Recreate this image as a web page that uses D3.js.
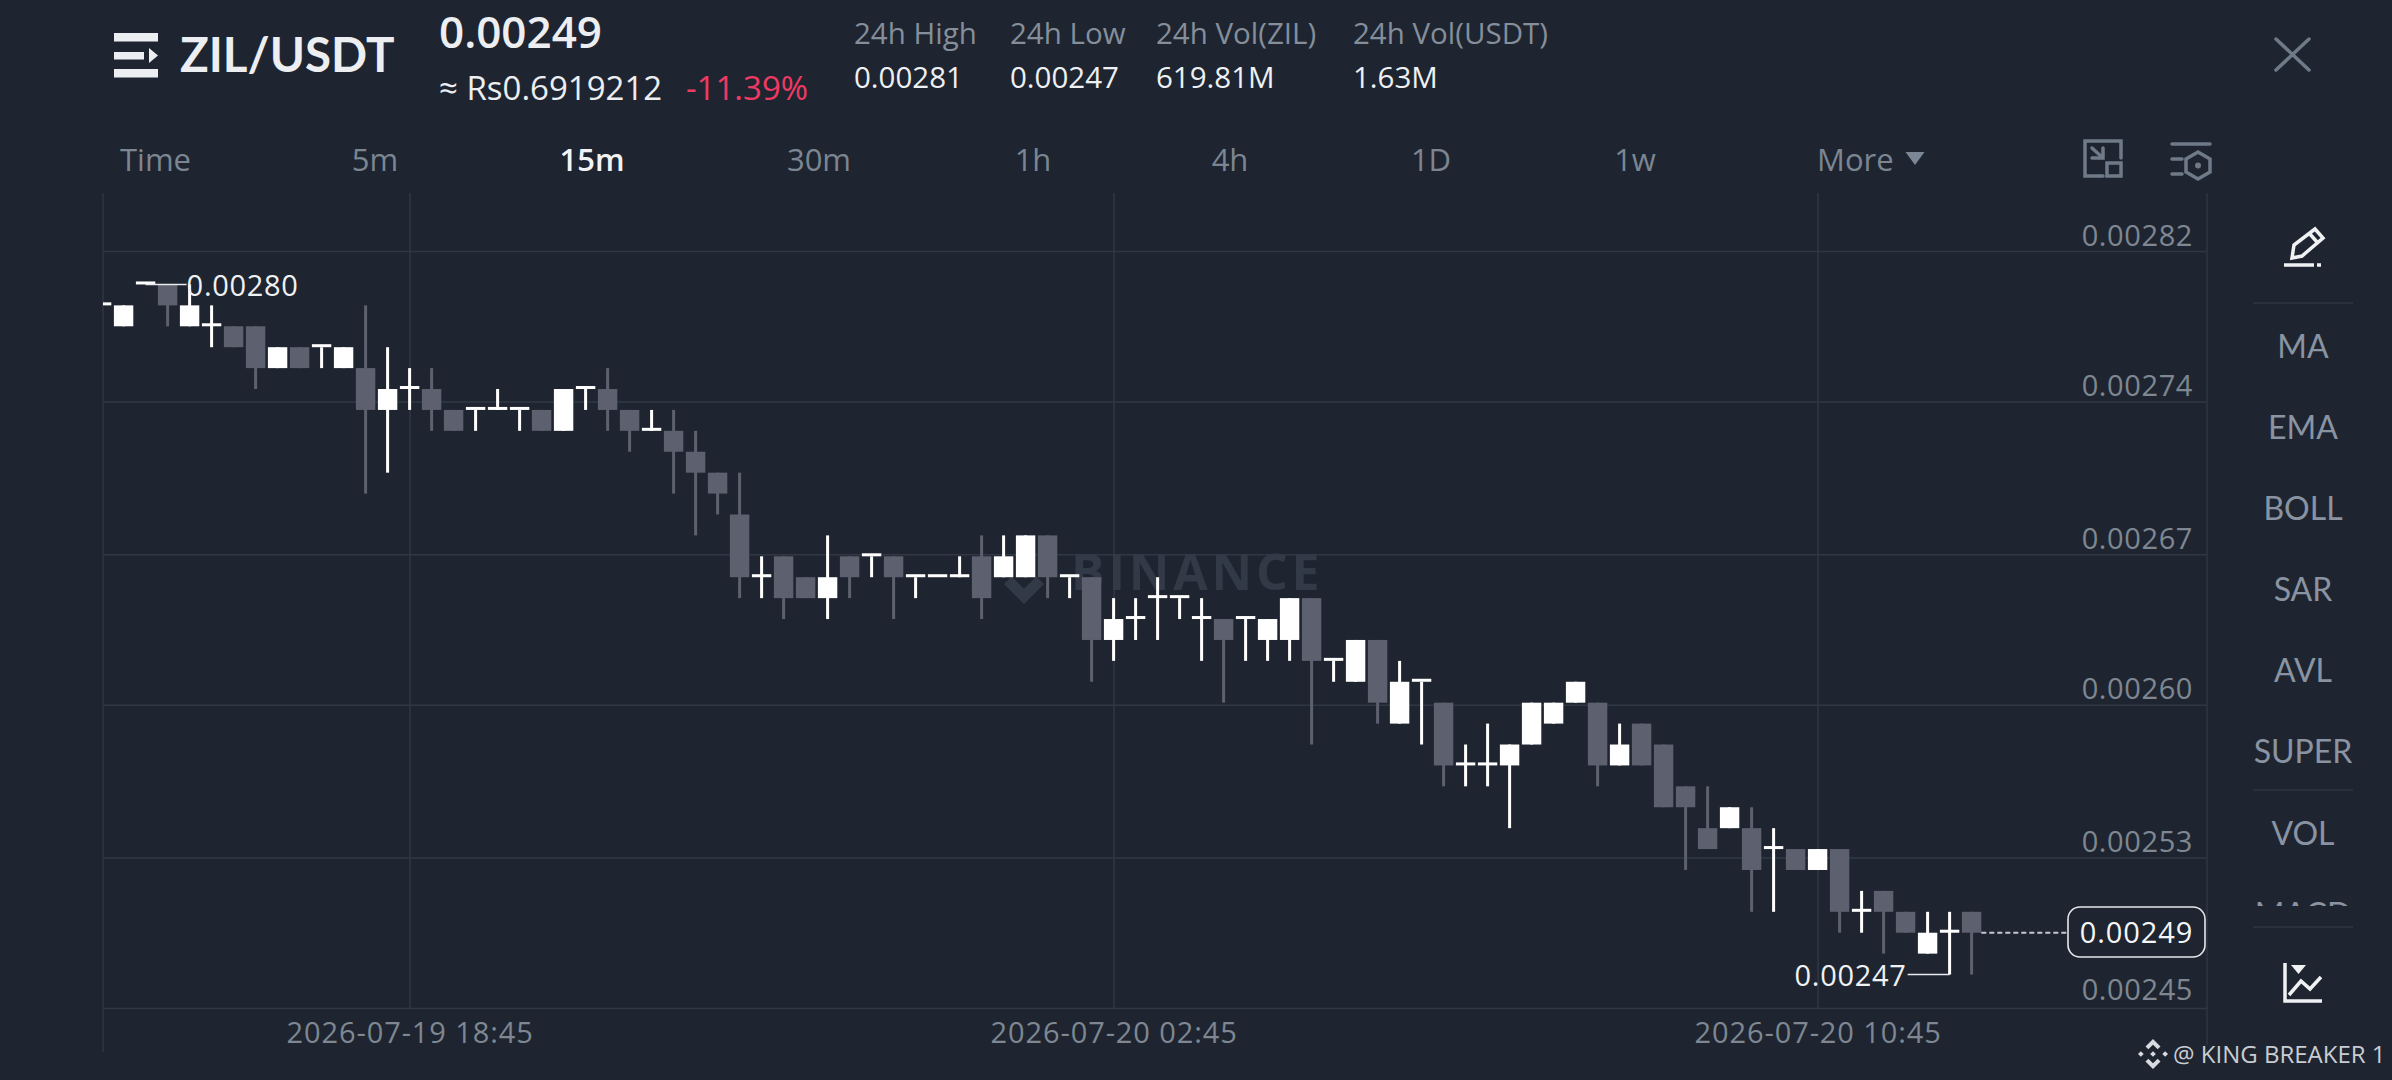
<!DOCTYPE html>
<html lang="en">
<head>
  <meta charset="UTF-8">
  <title>ZIL/USDT 15m</title>
  <script src="https://d3js.org/d3.v7.min.js"></script>
  <style>
    html, body { margin: 0; padding: 0; background: #1e2530; overflow: hidden; }
    svg { display: block; }
    text { font-family: "Open Sans", sans-serif; }
    .grid line { stroke: #303845; stroke-width: 1.5px; }
    .grid text { fill: #7e8792; font-size: 29px; letter-spacing: 0.9px; }
    .tab { fill: #7c8592; font-size: 31px; }
    .stat { fill: #858e9b; font-size: 29.500px; }
    .statv { fill: #eef0f3; font-size: 29.500px; }
    .side { fill: #8a93a2; font-family: Lato, sans-serif; font-size: 32px; text-anchor: middle; }
    .sep { stroke: #2e3643; stroke-width: 1.5px; }
    .icon { fill: none; stroke: #6f7a88; stroke-width: 3.500px; }
    .mark { fill: #f0f1f3; font-size: 29px; letter-spacing: 0.7px; }
  </style>
</head>
<body>
  <svg width="2392" height="1080"></svg>
  <script>
const opens = [279,278,280,280,278,278,278,278,276,277,277,276,276,274,275,275,274,274,274,274,274,273,275,275,274,273,273,272,271,269,266,267,266,265,267,267,267,266,266,266,267,266,266,268,266,266,263,264,265,265,264,264,264,263,263,265,262,261,263,259,261,260,257,257,257,258,259,260,260,257,259,258,256,254,254,254,253,253,252,253,250,251,250,248,249,250].map(d => d / 100000);
const highs = [279,279,280,280,280,279,278,278,277,277,277,277,279,277,276,276,274,274,275,274,274,275,275,276,274,274,274,273,271,271,267,267,266,268,267,267,267,266,266,267,268,268,268,268,266,266,265,265,266,265,265,264,264,264,265,265,262,263,263,262,261,260,258,259,258,260,260,261,260,259,259,258,256,256,255,255,254,253,253,253,251,251,250,250,250,250].map(d => d / 100000);
const lows = [279,278,280,278,278,277,277,275,276,276,276,276,270,271,274,273,273,273,274,273,273,273,274,273,272,273,270,268,269,265,265,264,265,264,265,266,264,265,266,266,264,266,266,265,265,261,262,263,263,264,262,260,262,262,262,258,261,261,259,259,258,256,256,256,254,258,259,260,256,257,257,255,252,253,254,250,250,252,252,249,249,248,249,248,247,247].map(d => d / 100000);
const closes = [279,279,280,279,279,278,277,276,277,276,277,277,274,275,275,274,273,274,274,274,273,275,275,274,273,273,272,271,270,266,266,265,265,266,266,267,266,266,266,266,265,267,268,266,266,263,264,264,265,265,264,263,264,264,265,262,262,263,260,261,261,257,257,257,258,260,260,261,257,258,257,255,255,253,255,252,253,252,253,250,250,250,249,249,249,249].map(d => d / 100000);

// one candle every 15 minutes, the first one is cut by the left edge
const times = d3.utcMinutes(new Date(Date.UTC(2026, 6, 19, 15, 15)), new Date(Date.UTC(2026, 6, 20, 12, 45)), 15);
const timeTicks = [new Date(Date.UTC(2026, 6, 19, 18, 45)), new Date(Date.UTC(2026, 6, 20, 2, 45)), new Date(Date.UTC(2026, 6, 20, 10, 45))];
const priceTicks = [0.002816, 0.002744, 0.002671, 0.002599, 0.002526, 0.002454];

const tabs = ["Time", "5m", "15m", "30m", "1h", "4h", "1D", "1w"];
const tabX = [120, 375, 592, 819, 1033, 1230, 1431, 1635];
const statNames = ["24h High", "24h Low", "24h Vol(ZIL)", "24h Vol(USDT)"];
const statValues = ["0.00281", "0.00247", "619.81M", "1.63M"];
const statX = [854, 1010, 1156, 1353];
const sideItems = ["MA", "EMA", "BOLL", "SAR", "AVL", "SUPER", "VOL", "MACD"];
const sideY = [358, 439, 520, 601, 682, 763, 845, 926];

const plotLeft = 103, plotRight = 2207, plotTop = 193, plotBottom = 1008;
const bodyW = 19.4, wickW = 3, dojiH = 3;
const bg = "#1e2530", upColor = "#ffffff", downColor = "#5d606e";

const svg = d3.select("svg");
const defs = svg.append("defs");
defs.append("clipPath").attr("id", "plot").append("rect")
  .attr("x", plotLeft).attr("y", plotTop).attr("width", plotRight - plotLeft).attr("height", plotBottom - plotTop);
defs.append("clipPath").attr("id", "sideclip").append("rect")
  .attr("x", 2230).attr("y", 310).attr("width", 160).attr("height", 596);

const x = d3.scaleUtc().domain([times[0], times[times.length - 1]]).range([101.6, 1971.6]);
const y = d3.scaleLinear().domain([priceTicks[5], priceTicks[0]]).range([plotBottom, 251]);

const chevronUp = [[0,-1],[.5,-.5],[.31,-.31],[0,-.62],[-.31,-.31],[-.5,-.5]];
const chevronDown = chevronUp.map(p => [p[0], -p[1]]);
const dia = (c, h) => [[c,-h],[c+h,0],[c,h],[c-h,0]];

function logo(cx, cy, r, color, shapes) {
  const g = svg.append("g").attr("transform", `translate(${cx},${cy}) scale(${r})`).attr("fill", color);
  shapes.forEach(s => {
    g.append("polygon").attr("points", s.join(" "));
  });
}

// grid and axes
const yAxis = d3.axisRight(y).tickValues(priceTicks).tickFormat(d3.format(".5f")).tickSize(plotRight - plotLeft);
const yG = svg.append("g").attr("class", "grid").attr("transform", `translate(${plotLeft},0)`).call(yAxis);
yG.select(".domain").remove();
yG.selectAll("text").attr("x", 2193 - plotLeft).attr("y", d => d === priceTicks[5] ? -9 : -6).attr("dy", 0)
  .style("text-anchor", "end").style("letter-spacing", "0.6px");

const xAxis = d3.axisBottom(x).tickValues(timeTicks).tickFormat(d3.utcFormat("%Y-%m-%d %H:%M")).tickSize(plotTop - plotBottom);
const xG = svg.append("g").attr("class", "grid").attr("transform", `translate(0,${plotBottom})`).call(xAxis);
xG.select(".domain").remove();
xG.selectAll("text").attr("y", 35).attr("dy", 0);

svg.append("line").attr("class", "sep").attr("x1", plotLeft).attr("x2", plotLeft).attr("y1", plotTop).attr("y2", 1052);
svg.append("line").attr("class", "sep").attr("x1", plotRight).attr("x2", plotRight).attr("y1", plotTop).attr("y2", 1045);

// watermark under the candles, only the lower part of its logo shows
logo(1024, 564, 40, "#323a47", [chevronDown, dia(0, .19)]);
svg.append("text").attr("x", 1071).attr("y", 590).attr("fill", "#323a47")
  .attr("font-size", 50).attr("font-weight", 700).attr("letter-spacing", 3.8).text("BINANCE");

// candles
const idx = d3.range(closes.length);
const color = i => closes[i] < opens[i] ? downColor : upColor;
const plot = svg.append("g").attr("clip-path", "url(#plot)");
plot.selectAll(".wick").data(idx).join("rect").attr("class", "wick")
  .attr("x", i => x(times[i]) - wickW / 2).attr("width", wickW)
  .attr("y", i => y(highs[i])).attr("height", i => y(lows[i]) - y(highs[i]))
  .attr("fill", color);
plot.selectAll(".body").data(idx).join("rect").attr("class", "body")
  .attr("x", i => x(times[i]) - bodyW / 2).attr("width", bodyW)
  .attr("y", i => closes[i] === opens[i] ? y(closes[i]) - dojiH : y(Math.max(opens[i], closes[i])))
  .attr("height", i => closes[i] === opens[i] ? dojiH : Math.abs(y(opens[i]) - y(closes[i])))
  .attr("fill", color);

// highest and lowest price labels
const hiI = d3.maxIndex(highs), loI = d3.minIndex(lows);
const fmt = d3.format(".5f");
svg.append("line").attr("x1", x(times[hiI])).attr("x2", x(times[hiI]) + 41).attr("y1", y(highs[hiI])).attr("y2", y(highs[hiI]))
  .attr("stroke", "#e8eaed").attr("stroke-width", 1.5);
svg.append("text").attr("class", "mark").attr("x", x(times[hiI]) + 41).attr("y", y(highs[hiI]) + 12).text(fmt(highs[hiI]));
svg.append("line").attr("x1", x(times[loI])).attr("x2", x(times[loI]) - 42).attr("y1", y(lows[loI])).attr("y2", y(lows[loI]))
  .attr("stroke", "#e8eaed").attr("stroke-width", 1.5);
svg.append("text").attr("class", "mark").attr("text-anchor", "end").attr("x", x(times[loI]) - 43).attr("y", y(lows[loI]) + 11).text(fmt(lows[loI]));

// last price
const last = closes[closes.length - 1];
svg.append("line").attr("x1", x(times[times.length - 1]) + bodyW / 2).attr("x2", 2068).attr("y1", y(last)).attr("y2", y(last))
  .attr("stroke", "#c4c8ce").attr("stroke-width", 2).attr("stroke-dasharray", "5 3");
svg.append("rect").attr("x", 2068).attr("y", 907).attr("width", 137).attr("height", 50).attr("rx", 12)
  .attr("fill", bg).attr("stroke", "#e6e8ea").attr("stroke-width", 1.6);
svg.append("text").attr("x", 2136.5).attr("y", 943).attr("text-anchor", "middle").attr("fill", "#f5f6f7")
  .attr("font-size", 29).attr("letter-spacing", 0.9).text(fmt(last));

// header
const head = svg.append("g");
head.append("path").attr("fill", "#eceef1")
  .attr("d", "M114 33h44v8.5h-44zM114 52h30v7.5h-30zM114 69h44v8.5h-44zM149 48l9 7.5l-9 7.5z");
head.append("text").attr("x", 180).attr("y", 72).attr("font-weight", 700)
  .attr("font-size", 47.500).attr("fill", "#eceef1").style("font-family", "Lato, sans-serif").text("ZIL/USDT");
head.append("text").attr("x", 439).attr("y", 48).attr("font-size", 44).attr("font-weight", 600).attr("fill", "#eceef1").text("0.00249");
head.append("text").attr("x", 439).attr("y", 100).attr("font-size", 33).attr("fill", "#eceef1").text("≈ Rs0.6919212");
head.append("text").attr("x", 686).attr("y", 100).attr("font-size", 33).attr("fill", "#ee3a63").text("-11.39%");

head.selectAll(".stat").data(statNames).join("text").attr("class", "stat")
  .attr("x", (d, i) => statX[i]).attr("y", 44).text(d => d);
head.selectAll(".statv").data(statValues).join("text").attr("class", "statv")
  .attr("x", (d, i) => statX[i]).attr("y", 88).text(d => d);

head.selectAll(".tab").data(tabs).join("text").attr("class", "tab")
  .attr("x", (d, i) => tabX[i]).attr("y", 171)
  .attr("text-anchor", (d, i) => i === 0 ? "start" : "middle")
  .style("fill", d => d === "15m" ? "#f2f3f5" : null)
  .style("font-weight", d => d === "15m" ? 600 : null)
  .text(d => d);
head.append("text").attr("class", "tab").attr("x", 1817).attr("y", 171).text("More");
head.append("path").attr("fill", "#7b8797").attr("d", "M1905.5 152h19l-9.500 13z");

// toolbar icons
const ic = svg.append("g").attr("class", "icon").attr("stroke-linecap", "round");
ic.append("path").attr("d", "M2276 39l33 31M2309 39l-33 31");
ic.append("path").attr("d", "M2103 176h-18v-35h36v17M2092 148l11 10M2092 158h11v-10");
ic.append("rect").attr("x", 2107).attr("y", 163).attr("width", 14).attr("height", 13);
ic.append("path").attr("d", "M2172 144h38M2172 159h10M2172 174h10M2198 152l12 7v13l-12 7l-12 -7v-13z");
ic.append("circle").attr("cx", 2198).attr("cy", 165.500).attr("r", 3).attr("fill", "#6f7a88").attr("stroke", "none");

const draw = svg.append("g").attr("fill", "none").attr("stroke", "#f0f1f3").attr("stroke-width", 3.500);
draw.append("path").attr("d", "M2292 258l2 -13l21 -16l8 9l-21 18zM2309 233l8 9");
draw.append("path").attr("d", "M2284 265h30M2317 265h4");
draw.append("path").attr("d", "M2285 963v38h37M2289 995l12 -14l9 8l11 -12");
svg.append("path").attr("fill", "#f0f1f3").attr("d", "M2291 965h15l-7.500 9z");

// indicator column on the right
const side = svg.append("g").attr("clip-path", "url(#sideclip)");
side.selectAll(".side").data(sideItems).join("text").attr("class", "side")
  .attr("x", 2303).attr("y", (d, i) => sideY[i]).text(d => d);
[303, 790, 927].forEach(v => {
  svg.append("line").attr("class", "sep").attr("x1", 2253).attr("x2", 2353).attr("y1", v).attr("y2", v);
});

// user tag
logo(2153, 1054, 15, "#d8dbe0", [chevronUp, chevronDown, dia(0, .19), dia(-.81, .19), dia(.81, .19)]);
svg.append("text").attr("x", 2173).attr("y", 1063).attr("font-size", 24).attr("fill", "#c9cdd3").text("@ KING BREAKER 1");
  </script>
</body>
</html>
